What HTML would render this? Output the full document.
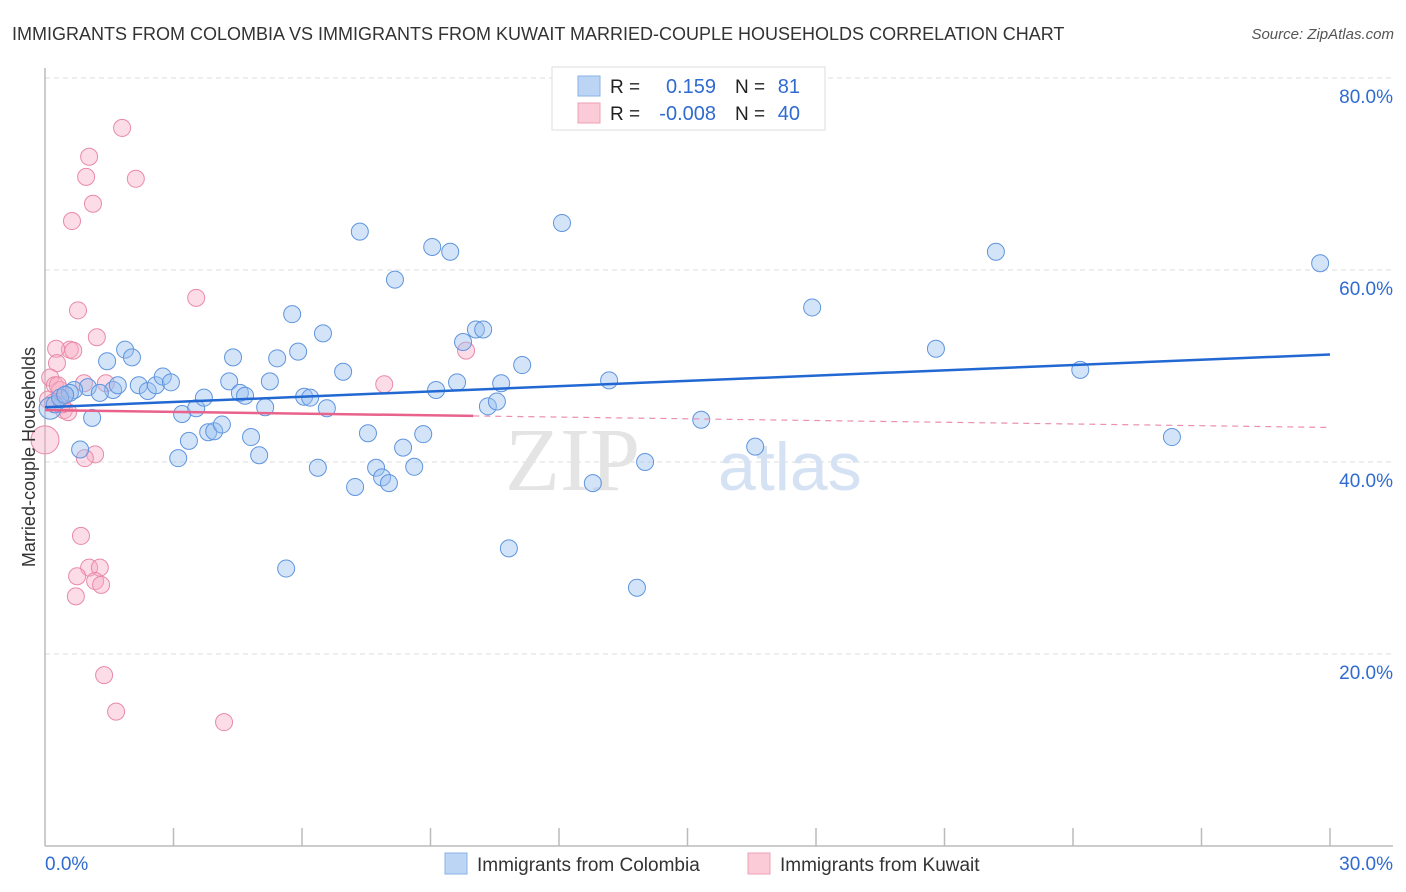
<!DOCTYPE html>
<html><head><meta charset="utf-8">
<style>
body{margin:0;background:#fff;font-family:"Liberation Sans",sans-serif;}
svg{display:block}
</style></head>
<body>
<svg id="chart" width="1406" height="892">
<text x="12" y="40" font-size="18" fill="#333">IMMIGRANTS FROM COLOMBIA VS IMMIGRANTS FROM KUWAIT MARRIED-COUPLE HOUSEHOLDS CORRELATION CHART</text>
<text x="1394" y="39" font-size="15" fill="#555" font-style="italic" text-anchor="end">Source: ZipAtlas.com</text>
<g id="grid"></g>
<g id="axes"></g>
<text x="640" y="490" font-size="90" fill="#e4e4e4" text-anchor="end" font-family="Liberation Serif,serif">ZIP</text>
<text x="718" y="490" font-size="68" fill="#d5e2f3">atlas</text>
<g id="pts"></g>
<g id="trend"></g>
<text transform="translate(35,457) rotate(-90)" font-size="18" fill="#333" text-anchor="middle">Married-couple Households</text>
<g>
<rect x="552" y="67" width="273" height="63" fill="#fff" stroke="#ddd"/>
<rect x="578" y="76" width="22" height="20" fill="#bcd5f5" stroke="#8ab2e6"/>
<rect x="578" y="103" width="22" height="20" fill="#fbcbd8" stroke="#eca0b6"/>
<text x="610" y="93" font-size="19" fill="#222">R =</text>
<text x="716" y="93" font-size="20" fill="#2f6bd0" text-anchor="end">0.159</text>
<text x="735" y="93" font-size="19" fill="#222">N =</text>
<text x="800" y="93" font-size="20" fill="#2f6bd0" text-anchor="end">81</text>
<text x="610" y="120" font-size="19" fill="#222">R =</text>
<text x="716" y="120" font-size="20" fill="#2f6bd0" text-anchor="end">-0.008</text>
<text x="735" y="120" font-size="19" fill="#222">N =</text>
<text x="800" y="120" font-size="20" fill="#2f6bd0" text-anchor="end">40</text>
</g>
<g>
<rect x="445" y="853" width="22" height="21" fill="#bcd5f5" stroke="#8ab2e6"/>
<text x="477" y="871" font-size="19" fill="#333">Immigrants from Colombia</text>
<rect x="748" y="853" width="22" height="21" fill="#fbcbd8" stroke="#eca0b6"/>
<text x="780" y="871" font-size="19" fill="#333">Immigrants from Kuwait</text>
</g>
</svg>
<script>
const yTicks=[20,40,60,80];
const yTickLabels=["20.0%","40.0%","60.0%","80.0%"];
const xTickLabels=["0.0%","30.0%"];
const colombiaX=[1.45,1.87,2.03,1.59,1.70,1.00,0.68,0.58,1.28,1.10,0.82,2.19,2.40,2.59,2.75,2.94,3.20,3.11,3.36,3.53,3.71,3.81,3.95,4.13,4.30,4.39,4.55,4.67,4.81,5.00,5.14,5.25,5.42,5.63,5.77,5.91,6.05,6.19,6.37,6.49,6.58,6.96,7.24,7.35,7.54,7.73,7.87,8.03,8.17,8.36,8.62,8.83,9.04,9.13,9.46,9.62,9.76,10.06,10.23,10.34,10.55,10.65,10.83,11.14,12.07,12.79,13.17,13.82,14.01,15.32,16.58,17.91,20.80,22.20,24.17,26.31,29.77,0.12,0.23,0.35,0.47];
const colombiaY=[50.5,51.7,50.9,47.5,48.0,47.8,47.5,47.2,47.2,44.6,41.3,48.0,47.4,48.0,48.9,48.3,45.0,40.4,42.2,45.6,46.7,43.1,43.2,43.9,48.4,50.9,47.2,46.9,42.6,40.7,45.7,48.4,50.8,28.9,55.4,51.5,46.8,46.7,39.4,53.4,45.6,49.4,37.4,64.0,43.0,39.4,38.4,37.8,59.0,41.5,39.5,42.9,62.4,47.5,61.9,48.3,52.5,53.8,53.8,45.8,46.3,48.2,31.0,50.1,64.9,37.8,48.5,26.9,40.0,44.4,41.6,56.1,51.8,61.9,49.6,42.6,60.7,45.6,46.0,46.7,47.0];
const kuwaitX=[1.80,1.03,0.96,1.12,0.63,2.12,3.53,0.77,1.21,0.58,0.26,0.28,0.66,0.12,0.23,0.35,0.47,0.30,0.44,0.54,1.42,0.91,1.17,0.93,9.83,7.92,0.84,1.03,1.28,0.75,1.17,1.31,0.72,1.38,1.66,4.18,0.0,0.07,0.19,0.40];
const kuwaitY=[74.8,71.8,69.7,66.9,65.1,69.5,57.1,55.8,53.0,51.7,51.8,50.3,51.6,48.8,48.0,47.5,47.0,48.0,45.4,45.2,48.2,48.2,40.8,40.4,51.6,48.1,32.3,29.0,29.0,28.1,27.6,27.2,26.0,17.8,14.0,12.9,42.3,46.5,46.2,46.0];
const colombiaTrend=[45.7,51.2];
const kuwaitTrend=[45.4,43.6];
const kuwaitSolidEnd=10;

const NS="http://www.w3.org/2000/svg";
const X0=45,X1=1330,Y0=846,YTOP=78;
const xs=v=>X0+v/30*(X1-X0);
const ys=v=>Y0-v/80*(Y0-YTOP);
function mk(tag,attrs,parent){const e=document.createElementNS(NS,tag);for(const k in attrs)e.setAttribute(k,attrs[k]);parent.appendChild(e);return e;}
const grid=document.getElementById('grid'),axes=document.getElementById('axes'),pts=document.getElementById('pts'),trend=document.getElementById('trend');
yTicks.forEach((t,i)=>{
 const l=mk('line',{x1:X0,x2:1393,y1:ys(t),y2:ys(t),stroke:'#ddd','stroke-dasharray':'5,4'},grid);
 
 
 const tx=mk('text',{x:1393,y:ys(t)+25,'font-size':19,fill:'#2f6bd0','text-anchor':'end'},axes);
 tx.textContent=yTickLabels[i];
 
 
});
let a=mk('line',{x1:X0,x2:X0,y1:68,y2:Y0,stroke:'#bbb','stroke-width':1.5},axes);


a=mk('line',{x1:X0,x2:1393,y1:Y0,y2:Y0,stroke:'#bbb','stroke-width':1.5},axes);


for(let i=1;i<=10;i++){
 const t=mk('line',{x1:xs(i*3),x2:xs(i*3),y1:Y0-18,y2:Y0,stroke:'#bbb','stroke-width':1.5},axes);
 
 
}
let xl=mk('text',{x:45,y:870,'font-size':19,fill:'#2f6bd0'},axes);xl.textContent=xTickLabels[0];


xl=mk('text',{x:1393,y:870,'font-size':19,fill:'#2f6bd0','text-anchor':'end'},axes);xl.textContent=xTickLabels[1];



kuwaitX.forEach((x,i)=>{
 const r=(x===0)?14:8.5;
 const c=mk('circle',{cx:xs(x),cy:ys(kuwaitY[i]),r:r,fill:'rgba(247,170,195,0.4)',stroke:'#e98aa8','stroke-width':1},pts);
 
 
});
colombiaX.forEach((x,i)=>{
 const r=(i===77)?11:8.5;
 const c=mk('circle',{cx:xs(x),cy:ys(colombiaY[i]),r:r,fill:'rgba(150,190,240,0.42)',stroke:'#5f95de','stroke-width':1},pts);
 
 
});
let t=mk('line',{x1:xs(0),y1:ys(colombiaTrend[0]),x2:xs(30),y2:ys(colombiaTrend[1]),stroke:'#2268d2','stroke-width':2.5},trend);


const kAt=v=>kuwaitTrend[0]+(kuwaitTrend[1]-kuwaitTrend[0])*v/30;
t=mk('line',{x1:xs(0),y1:ys(kAt(0)),x2:xs(kuwaitSolidEnd),y2:ys(kAt(kuwaitSolidEnd)),stroke:'#e8628c','stroke-width':2.5},trend);


t=mk('line',{x1:xs(kuwaitSolidEnd),y1:ys(kAt(kuwaitSolidEnd)),x2:xs(30),y2:ys(kAt(30)),stroke:'#eb8fac','stroke-width':1.2,'stroke-dasharray':'6,5'},trend);


</script>
</body></html>
